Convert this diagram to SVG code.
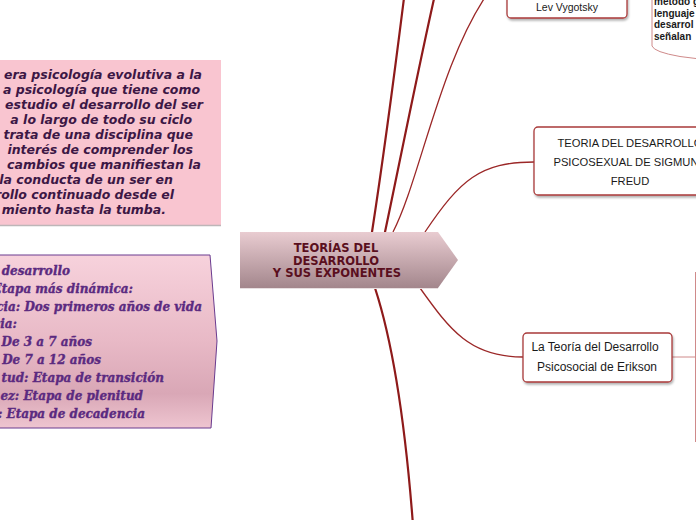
<svg xmlns="http://www.w3.org/2000/svg" width="696" height="520" viewBox="0 0 696 520">
<defs>
<linearGradient id="gCentral" x1="0" y1="0" x2="0" y2="1">
<stop offset="0" stop-color="#e9ccd1"/>
<stop offset="1" stop-color="#a3868c"/>
</linearGradient>
<linearGradient id="gLeft" x1="0" y1="0" x2="0" y2="1">
<stop offset="0" stop-color="#f7d2dc"/>
<stop offset="0.5" stop-color="#e8b9c6"/>
<stop offset="0.8" stop-color="#d9a7b6"/>
<stop offset="1" stop-color="#eec5d0"/>
</linearGradient>
<filter id="sh" x="-10%" y="-10%" width="130%" height="140%">
<feDropShadow dx="1" dy="2" stdDeviation="1.2" flood-color="#000" flood-opacity="0.3"/>
</filter>
</defs>
<style>
.thick{fill:none;stroke:#8e1a1a;stroke-width:2.2;stroke-linecap:round}
.thin{fill:none;stroke:#9b2727;stroke-width:1.3}
.light{fill:none;stroke:#cf8a8a;stroke-width:1}
.box{fill:#fff;stroke:#a93a3a;stroke-width:1.3}
.hand{font-family:"Liberation Sans",Arial,sans-serif;fill:#1a1a1a;text-anchor:middle}
.t1{font-family:"DejaVu Sans",Verdana,sans-serif;font-weight:bold;font-style:italic;font-size:12.5px;fill:#3c1745;text-anchor:end}
.t2{font-family:"DejaVu Serif",Georgia,serif;font-weight:bold;font-style:italic;font-size:12px;fill:#5b2a80;stroke:#5b2a80;stroke-width:0.35;text-anchor:end}
.tc{font-family:"DejaVu Sans",Verdana,sans-serif;font-weight:bold;font-size:11.5px;fill:#5a0f1e;text-anchor:middle}
.tr{font-family:"Liberation Sans",Arial,sans-serif;font-weight:bold;font-size:10px;fill:#1a1a1a}
</style>

<g id="connectors">
<path class="thick" d="M372,232 C380,180 395,70 405,-10"/>
<path class="thick" d="M385,232 C395,185 420,60 436,-10"/>
<path class="thin" d="M393,232 C420,180 440,60 490,-10"/>
<path class="thin" d="M425,232 C460,180 480,162 534,162"/>
<path class="thin" d="M420,288 C450,330 470,357 523,357"/>
<path class="thick" d="M375,288 C392,340 405,420 413,525"/>
<path class="light" d="M672,357 L695,357"/>
</g>

<g id="node-definicion">
<rect x="-10" y="60" width="231" height="165" fill="#f9c5d0"/>
<line x1="-10" y1="225.5" x2="221" y2="225.5" stroke="#bdb6b8" stroke-width="1.5"/>
<text class="t1" x="202" y="79">era psicología evolutiva a la</text>
<text class="t1" x="200" y="94">a psicología que tiene como</text>
<text class="t1" x="203" y="109">estudio el desarrollo del ser</text>
<text class="t1" x="192" y="124">a lo largo de todo su ciclo</text>
<text class="t1" x="193" y="139">trata de una disciplina que</text>
<text class="t1" x="193" y="154">interés de comprender los</text>
<text class="t1" x="201" y="169">cambios que manifiestan la</text>
<text class="t1" x="173" y="184">y la conducta de un ser en</text>
<text class="t1" x="174" y="199">rollo continuado desde el</text>
<text class="t1" x="166" y="214">miento hasta la tumba.</text>
</g>

<g id="node-etapas">
<polygon points="-10,255 210,255 217,341 211,428 -10,428" fill="url(#gLeft)" stroke="#6a3b8f" stroke-width="1"/>
<text class="t2" x="70" y="275">desarrollo</text>
<text class="t2" x="133" y="292.7">Etapa más dinámica:</text>
<text class="t2" x="202" y="310.5">cia: Dos primeros años de vida</text>
<text class="t2" x="17" y="328.3">cia:</text>
<text class="t2" x="92" y="346.3">De 3 a 7 años</text>
<text class="t2" x="101" y="364">De 7 a 12 años</text>
<text class="t2" x="164" y="382">tud: Etapa de transición</text>
<text class="t2" x="143" y="400">ez: Etapa de plenitud</text>
<text class="t2" x="145" y="417.7">: Etapa de decadencia</text>
</g>

<g id="node-central">
<polygon points="240,232 438,232 458,260 438,288 240,288" fill="url(#gCentral)"/>
<line x1="240" y1="288.5" x2="438" y2="288.5" stroke="#e8dfe1" stroke-width="1"/>
<text class="tc" x="336" y="252">TEORÍAS DEL</text>
<text class="tc" x="336" y="264.5">DESARROLLO</text>
<text class="tc" x="337" y="277">Y SUS EXPONENTES</text>
</g>

<g id="node-vygotsky">
<rect class="box" x="507" y="-20" width="120" height="38" rx="4" filter="url(#sh)"/>
<text class="hand" x="567" y="11" font-size="10.5">Lev Vygotsky</text>
</g>

<g id="node-vygotsky-texto">
<path class="light" d="M652,-5 L652,46 Q654,52 680,56.5 L700,59"/>
<text class="tr" x="654" y="5">método g</text>
<text class="tr" x="654" y="16.5">lenguaje</text>
<text class="tr" x="654" y="28">desarrol</text>
<text class="tr" x="654" y="39.5">señalan</text>
</g>

<g id="node-freud">
<rect class="box" x="534" y="127" width="192" height="68" rx="4" filter="url(#sh)"/>
<text class="hand" x="630" y="147" font-size="11.2">TEORIA DEL DESARROLLO</text>
<text class="hand" x="630" y="166" font-size="11.2">PSICOSEXUAL DE SIGMUND</text>
<text class="hand" x="630" y="185" font-size="11.2">FREUD</text>
</g>

<g id="node-erikson">
<rect class="box" x="523" y="333" width="149" height="49" rx="4" filter="url(#sh)"/>
<text class="hand" x="595" y="351" font-size="12">La Teoría del Desarrollo</text>
<text class="hand" x="597" y="371" font-size="12">Psicosocial de Erikson</text>
</g>

<g id="node-erikson-texto">
<line class="light" x1="695.5" y1="272" x2="695.5" y2="442"/>
</g>
</svg>
